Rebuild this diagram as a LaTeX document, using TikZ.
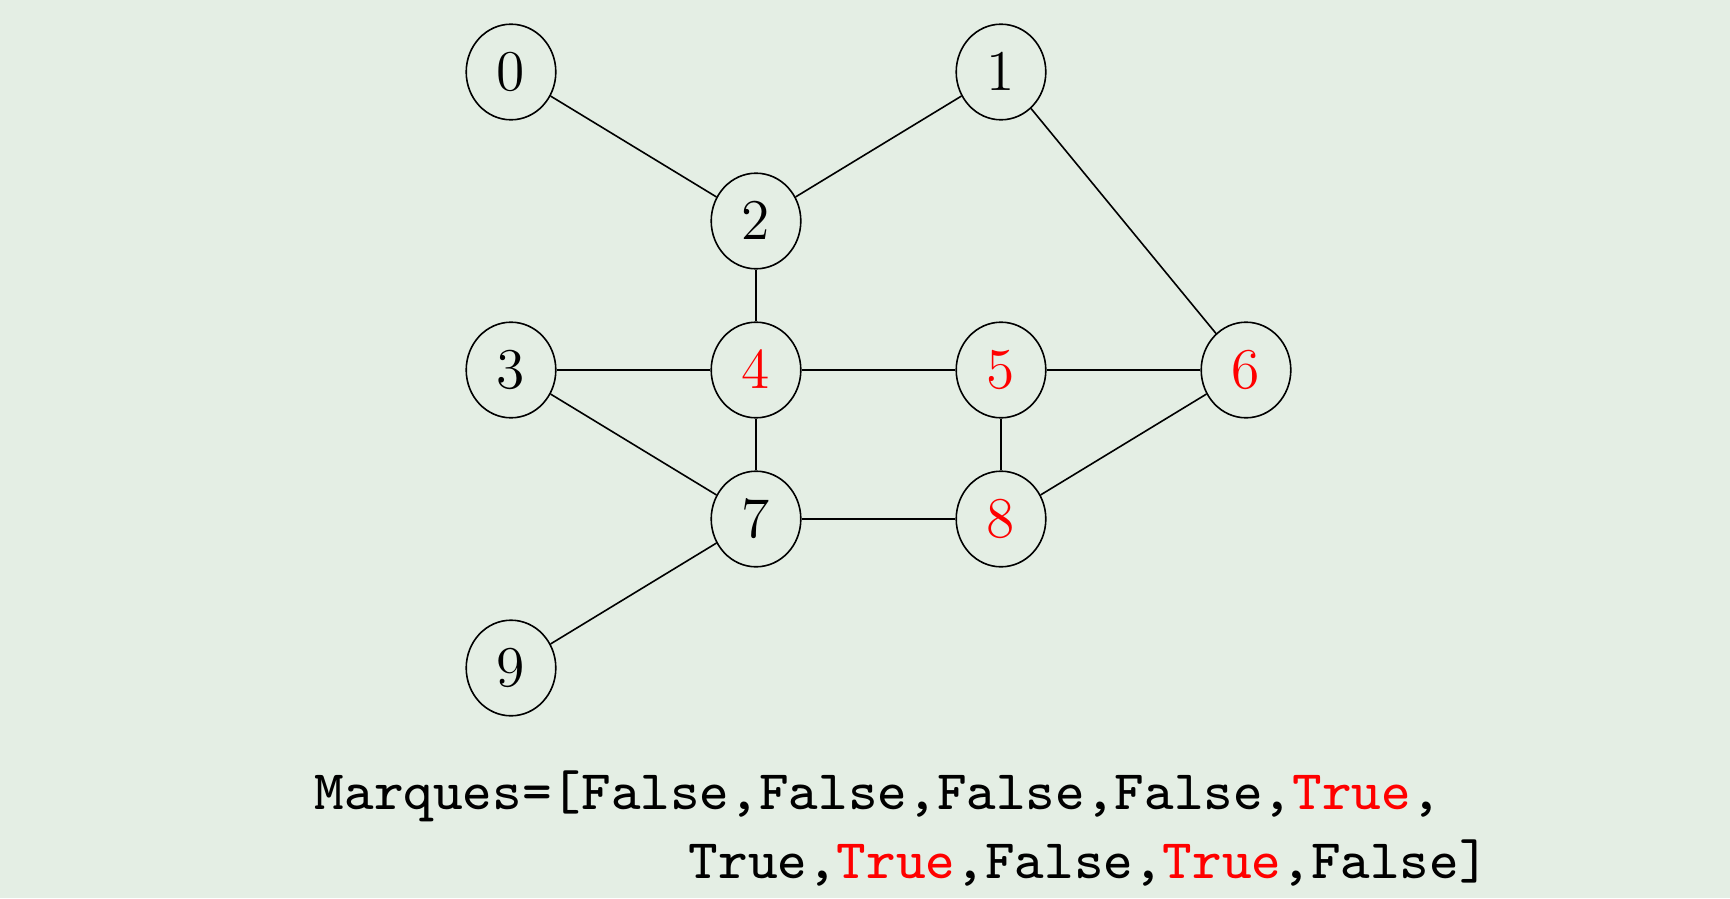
\documentclass[tikz,border=0pt]{standalone}
\usepackage{fontspec}
\usetikzlibrary{shapes.geometric}
\newfontfamily\listfont{lmmono8-regular.otf}
\definecolor{bgcol}{RGB}{228,238,228}
\definecolor{mark}{RGB}{255,0,0}
\begin{document}
\begin{tikzpicture}[x=0.25pt,y=-0.25pt,
  vertex/.style={ellipse,draw=black,line width=0.4pt,minimum width=22.4pt,minimum height=23.9pt,inner sep=0pt,font=\fontsize{14.4}{17}\selectfont},
  marked/.style={vertex,text=mark},
  edge/.style={draw=black,line width=0.4pt},
  listtext/.style={anchor=base west,inner sep=0pt,font=\fontsize{13.95}{17}\selectfont\listfont}]
\fill[bgcol] (0,0) rectangle (1730,898);
\useasboundingbox (0,0) rectangle (1730,898);
\node[vertex] (n0) at (511,72) {$0$};
\node[vertex] (n1) at (1001,72) {$1$};
\node[vertex] (n2) at (756,221) {$2$};
\node[vertex] (n3) at (511,370) {$3$};
\node[marked] (n4) at (756,370) {$4$};
\node[marked] (n5) at (1001,370) {$5$};
\node[marked] (n6) at (1246,370) {$6$};
\node[vertex] (n7) at (756,519) {$7$};
\node[marked] (n8) at (1001,519) {$8$};
\node[vertex] (n9) at (511,668) {$9$};
\draw[edge] (n0) -- (n2);
\draw[edge] (n1) -- (n2);
\draw[edge] (n1) -- (n6);
\draw[edge] (n2) -- (n4);
\draw[edge] (n3) -- (n4);
\draw[edge] (n4) -- (n5);
\draw[edge] (n5) -- (n6);
\draw[edge] (n3) -- (n7);
\draw[edge] (n4) -- (n7);
\draw[edge] (n7) -- (n8);
\draw[edge] (n5) -- (n8);
\draw[edge] (n8) -- (n6);
\draw[edge] (n9) -- (n7);
\node[listtext] (l1) at (314,809) {Marques=[False,False,False,False,\textcolor{mark}{True},};
\node[listtext] (l2) at (688,878) {True,\textcolor{mark}{True},False,\textcolor{mark}{True},False]};
\end{tikzpicture}
\end{document}
